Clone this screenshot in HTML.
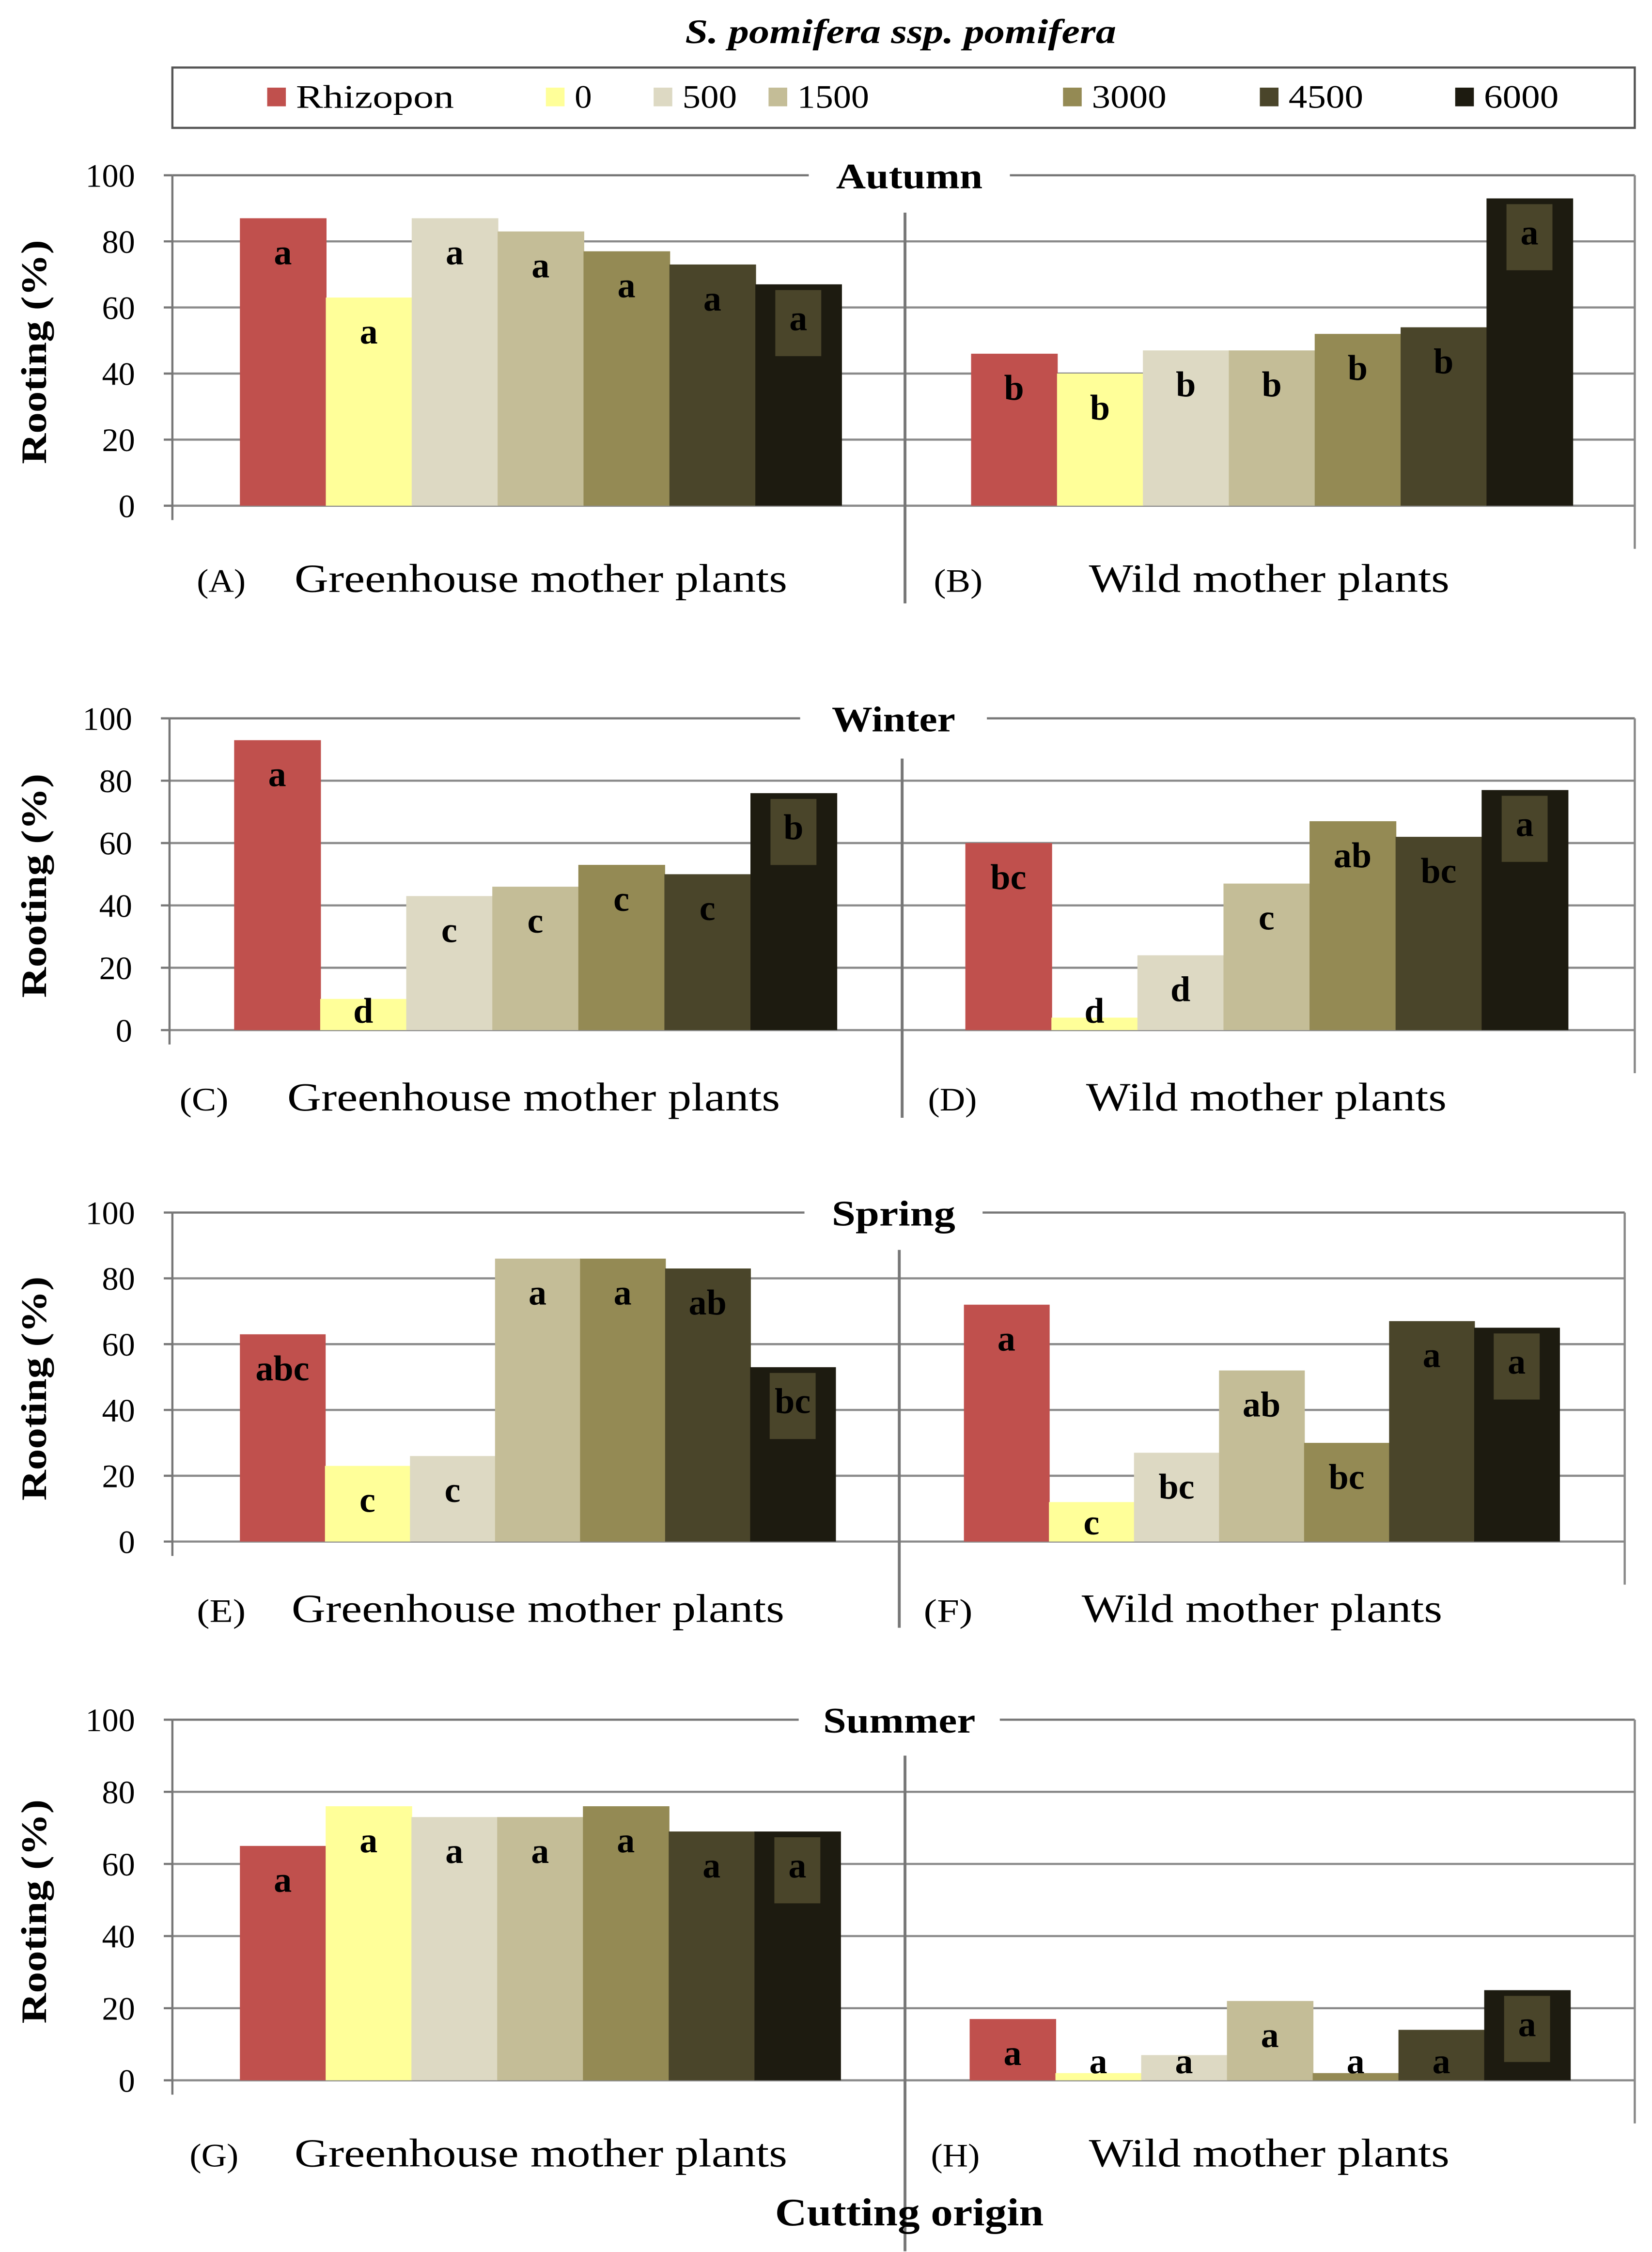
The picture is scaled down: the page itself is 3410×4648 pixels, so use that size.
<!DOCTYPE html>
<html><head><meta charset="utf-8"><style>
html,body{margin:0;padding:0;background:#fff}
svg{display:block}
text{font-family:"Liberation Serif",serif;fill:#000}
</style></head><body>
<svg id="chart" width="3410" height="4648" viewBox="0 0 1150 1567.5" xmlns="http://www.w3.org/2000/svg">
<text x="627" y="30" text-anchor="middle" font-size="24" font-weight="bold" font-style="italic" textLength="300" lengthAdjust="spacingAndGlyphs">S. pomifera ssp. pomifera</text>
<g id="legend"></g>
<g id="panels"></g>
<text x="633" y="1549" text-anchor="middle" font-size="27" font-weight="bold" textLength="187" lengthAdjust="spacingAndGlyphs">Cutting origin</text>
</svg>
<script>
const series = ["Rhizopon","0","500","1500","3000","4500","6000"];
const colors = ["#c0504d","#ffff99","#ddd9c3","#c4bd97","#948a54","#4a452a","#1d1b10"];
const yTicks = [0,20,40,60,80,100];
const seasons = ["Autumn","Winter","Spring","Summer"];
const ghValues = [[87,63,87,83,77,73,67],[93,10,43,46,53,50,76],[63,23,26,86,86,83,53],[65,76,73,73,76,69,69]];
const wildValues = [[46,40,47,47,52,54,93],[60,4,24,47,67,62,77],[72,12,27,52,30,67,65],[17,2,7,22,2,14,25]];
const ghLetters = [["a","a","a","a","a","a","a"],["a","d","c","c","c","c","b"],["abc","c","c","a","a","ab","bc"],["a","a","a","a","a","a","a"]];
const wildLetters = [["b","b","b","b","b","b","a"],["bc","d","d","c","ab","bc","a"],["a","c","bc","ab","bc","a","a"],["a","a","a","a","a","a","a"]];
const panelTags = [["(A)","(B)"],["(C)","(D)"],["(E)","(F)"],["(G)","(H)"]];

const layout = [
 {top:122,bot:352,l:120,r:1138,ghx:167,wx:676,bw:59.8,div:630,d1:148,d2:420,ly:412,tagL:137,txtL:205,tagR:650,txtR:758,titleX:633,tw:140},
 {top:500,bot:717,l:118,r:1138,ghx:163,wx:672,bw:59.9,div:628,d1:528,d2:778,ly:773,tagL:125,txtL:200,tagR:646,txtR:756,titleX:622,tw:130},
 {top:844,bot:1073,l:120,r:1131,ghx:167,wx:671,bw:59.2,div:626,d1:870,d2:1133,ly:1129,tagL:137,txtL:203,tagR:643,txtR:753,titleX:622,tw:124},
 {top:1197,bot:1448,l:120,r:1138,ghx:167,wx:675,bw:59.7,div:630,d1:1222,d2:1567,ly:1508,tagL:132,txtL:205,tagR:648,txtR:758,titleX:626,tw:140}
];
const titleLen=[102,86,86,106];
const NS="http://www.w3.org/2000/svg";
function mk(tag,attrs,parent){const e=document.createElementNS(NS,tag);for(const k in attrs)e.setAttribute(k,attrs[k]);parent.appendChild(e);return e;}

const lg=document.getElementById('legend');
const box=mk('rect',{x:120,y:47,width:1018,height:42,fill:'#fff',stroke:'#555','stroke-width':1.5},lg);


const legX=[186,380,455,535,740,877,1013];
const legLen=[110,12,38,50,52,52,52];
series.forEach((s,i)=>{
  const g=mk('g',{},lg);
  
  
  mk('rect',{x:legX[i],y:61,width:13,height:13,fill:colors[i]},g);
  const t=mk('text',{x:legX[i]+20,y:75,'font-size':23,textLength:legLen[i],lengthAdjust:'spacingAndGlyphs'},g);t.textContent=s;
});

const panels=document.getElementById('panels');
seasons.forEach((season,p)=>{
  const L=layout[p];
  const g=mk('g',{},panels);
  
  
  const y=v=>L.bot-(v/100)*(L.bot-L.top);
  yTicks.forEach(t=>{
    if(t===100){
      mk('line',{x1:L.l,y1:y(t),x2:L.titleX-L.tw/2,y2:y(t),stroke:'#777','stroke-width':1.5},g);
      mk('line',{x1:L.titleX+L.tw/2,y1:y(t),x2:L.r,y2:y(t),stroke:'#777','stroke-width':1.5},g);
    } else mk('line',{x1:L.l,y1:y(t),x2:L.r,y2:y(t),stroke:'#8a8a8a','stroke-width':1.5},g);
    mk('line',{x1:L.l-6,y1:y(t),x2:L.l,y2:y(t),stroke:'#777','stroke-width':1.5},g);
    const tl=mk('text',{x:L.l-26,y:y(t)+8,'text-anchor':'end','font-size':23},g);
    tl.textContent=t;
    
    
  });
  mk('line',{x1:L.l,y1:L.top,x2:L.l,y2:L.bot+10,stroke:'#777','stroke-width':1.5},g);
  mk('line',{x1:L.r,y1:L.top,x2:L.r,y2:L.bot+30,stroke:'#888','stroke-width':1.5},g);
  mk('line',{x1:L.div,y1:L.d1,x2:L.div,y2:L.d2,stroke:'#777','stroke-width':2},g);
  const tt=mk('text',{x:L.titleX,y:L.top+9,'text-anchor':'middle','font-size':25,'font-weight':'bold',textLength:titleLen[p],lengthAdjust:'spacingAndGlyphs'},g);
  tt.textContent=season;
  
  
  const yt=mk('text',{x:0,y:0,'text-anchor':'middle','font-size':25,'font-weight':'bold',textLength:156,lengthAdjust:'spacingAndGlyphs',transform:`translate(32,${(L.top+L.bot)/2+8}) rotate(-90)`},g);
  yt.textContent='Rooting (%)';
  
  
  const groups=[[ghValues[p],ghLetters[p],L.ghx,'greenhouse'],[wildValues[p],wildLetters[p],L.wx,'wild']];
  groups.forEach(([vals,lets,x0,nm])=>{
    vals.forEach((v,i)=>{
      const x=x0+i*L.bw, top=y(v);
      const r=mk('rect',{x:x,y:top,width:L.bw+0.5,height:L.bot-top,fill:colors[i]},g);
      
      
      const ly=Math.min(top+25,L.bot-12);
      if(i===6) mk('rect',{x:x+L.bw/2-16,y:top+4,width:32,height:46,fill:'#4a452a'},g);
      const t=mk('text',{x:x+L.bw/2,y:ly+7,'text-anchor':'middle','font-size':25,'font-weight':'bold'},g);
      t.textContent=lets[i];
      
      
    });
  });
  [[L.tagL,panelTags[p][0],23,34],[L.txtL,'Greenhouse mother plants',28,343],[L.tagR,panelTags[p][1],23,34],[L.txtR,'Wild mother plants',28,251]].forEach(([x,s,fs,len])=>{
    const t=mk('text',{x:x,y:L.ly,'font-size':fs,textLength:len,lengthAdjust:'spacingAndGlyphs'},g);
    t.textContent=s;
    
    
  });
});
</script>
</body></html>
